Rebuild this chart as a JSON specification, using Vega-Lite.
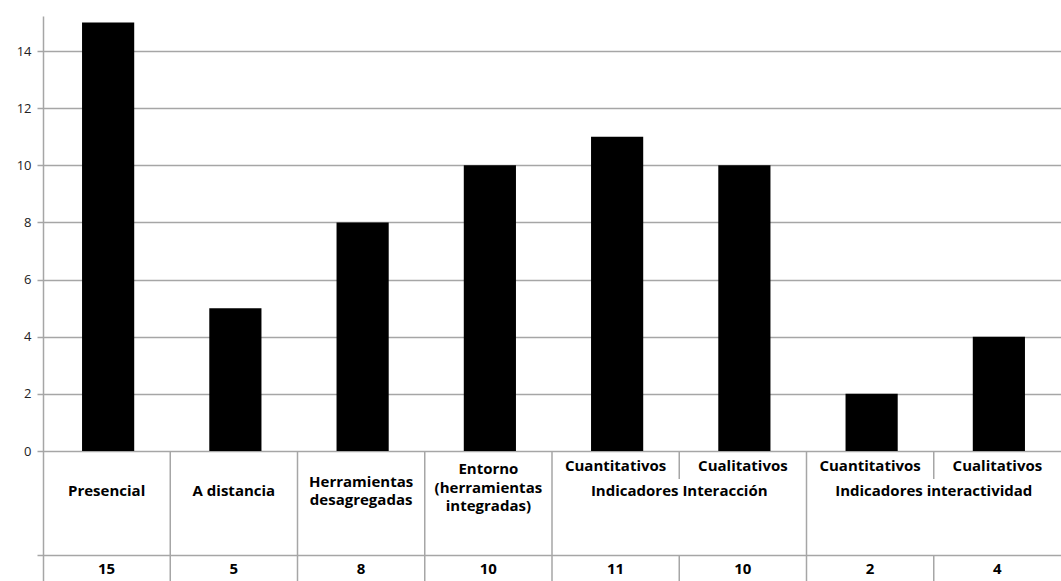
{
  "$schema": "https://vega.github.io/schema/vega-lite/v6.json",
  "width": 1018,
  "height": 565,
  "autosize": {"type": "none"},
  "padding": {"left": 43, "top": 16, "right": 0, "bottom": 0},
  "background": "white",
  "config": {"view": {"stroke": null}, "font": "Open Sans"},
  "datasets": {
    "main": [
      {"k": "1", "label": "Presencial", "sub": "", "value": 15},
      {"k": "2", "label": "A distancia", "sub": "", "value": 5},
      {"k": "3", "label": "Herramientas\ndesagregadas", "sub": "", "value": 8},
      {"k": "4", "label": "Entorno\n(herramientas\nintegradas)", "sub": "", "value": 10},
      {"k": "5", "label": "", "sub": "Cuantitativos", "value": 11},
      {"k": "6", "label": "", "sub": "Cualitativos", "value": 10},
      {"k": "7", "label": "", "sub": "Cuantitativos", "value": 2},
      {"k": "8", "label": "", "sub": "Cualitativos", "value": 4}
    ],
    "groups": [
      {"k": "6", "grp": "Indicadores Interacción"},
      {"k": "8", "grp": "Indicadores interactividad"}
    ]
  },
  "encoding": {
    "x": {"field": "k", "type": "nominal", "sort": null, "axis": null,
          "scale": {"domain": ["1","2","3","4","5","6","7","8"], "paddingInner": 0, "paddingOuter": 0}}
  },
  "layer": [
    {
      "data": {"name": "main"},
      "mark": {"type": "bar", "width": {"band": 0.41}, "color": "black", "xOffset": 1.5},
      "encoding": {
        "y": {"field": "value", "type": "quantitative",
              "scale": {"domain": [-4.55, 15.225], "nice": false, "zero": false},
              "axis": {"values": [-3.64, 0, 2, 4, 6, 8, 10, 12, 14], "title": null,
                       "labelExpr": "datum.value < 0 ? '' : datum.label",
                       "grid": true, "gridColor": "#a6a6a6", "gridWidth": 1.5,
                       "domainColor": "#a6a6a6", "domainWidth": 1.5,
                       "tickColor": "#a6a6a6", "tickWidth": 1.5, "tickSize": 6,
                       "labelFont": "Open Sans", "labelFontSize": 13, "labelColor": "#222", "labelPadding": 6}},
        "y2": {"datum": 0}
      }
    },
    {
      "data": {"name": "main"},
      "transform": [{"filter": {"field": "k", "oneOf": ["2","3","4","5","7"]}}],
      "mark": {"type": "rule", "color": "#a6a6a6", "strokeWidth": 1.5},
      "encoding": {
        "x": {"field": "k", "type": "nominal", "bandPosition": 0},
        "y": {"datum": 0},
        "y2": {"datum": -4.55}
      }
    },
    {
      "data": {"name": "main"},
      "transform": [{"filter": {"field": "k", "oneOf": ["6","8"]}}],
      "mark": {"type": "rule", "color": "#a6a6a6", "strokeWidth": 1.5},
      "encoding": {
        "x": {"field": "k", "type": "nominal", "bandPosition": 0},
        "y": {"datum": 0},
        "y2": {"datum": -0.98}
      }
    },
    {
      "data": {"name": "main"},
      "transform": [{"filter": {"field": "k", "oneOf": ["6","8"]}}],
      "mark": {"type": "rule", "color": "#a6a6a6", "strokeWidth": 1.5},
      "encoding": {
        "x": {"field": "k", "type": "nominal", "bandPosition": 0},
        "y": {"datum": -3.64},
        "y2": {"datum": -4.55}
      }
    },
    {
      "data": {"name": "main"},
      "transform": [{"filter": {"field": "k", "oneOf": ["1","2"]}}],
      "mark": {"type": "text", "fontWeight": "bold", "fontSize": 15, "color": "black", "baseline": "middle"},
      "encoding": {
        "text": {"field": "label"},
        "y": {"datum": -1.4}
      }
    },
    {
      "data": {"name": "main"},
      "transform": [{"filter": {"field": "k", "oneOf": ["3"]}}],
      "mark": {"type": "text", "fontWeight": "bold", "fontSize": 15, "color": "black", "baseline": "middle", "lineBreak": "\n", "lineHeight": 18.5},
      "encoding": {
        "text": {"field": "label"},
        "y": {"datum": -1.08}
      }
    },
    {
      "data": {"name": "main"},
      "transform": [{"filter": {"field": "k", "oneOf": ["4"]}}],
      "mark": {"type": "text", "fontWeight": "bold", "fontSize": 15, "color": "black", "baseline": "middle", "lineBreak": "\n", "lineHeight": 18.5},
      "encoding": {
        "text": {"field": "label"},
        "y": {"datum": -0.63}
      }
    },
    {
      "data": {"name": "main"},
      "mark": {"type": "text", "fontWeight": "bold", "fontSize": 15, "color": "black", "baseline": "middle"},
      "encoding": {
        "text": {"field": "sub"},
        "y": {"datum": -0.525}
      }
    },
    {
      "data": {"name": "groups"},
      "mark": {"type": "text", "fontWeight": "bold", "fontSize": 15, "color": "black", "baseline": "middle"},
      "encoding": {
        "x": {"field": "k", "type": "nominal", "bandPosition": 0},
        "text": {"field": "grp"},
        "y": {"datum": -1.4}
      }
    },
    {
      "data": {"name": "main"},
      "mark": {"type": "text", "fontWeight": "bold", "fontSize": 15, "color": "black", "baseline": "middle"},
      "encoding": {
        "text": {"field": "value"},
        "y": {"datum": -4.13}
      }
    }
  ]
}
